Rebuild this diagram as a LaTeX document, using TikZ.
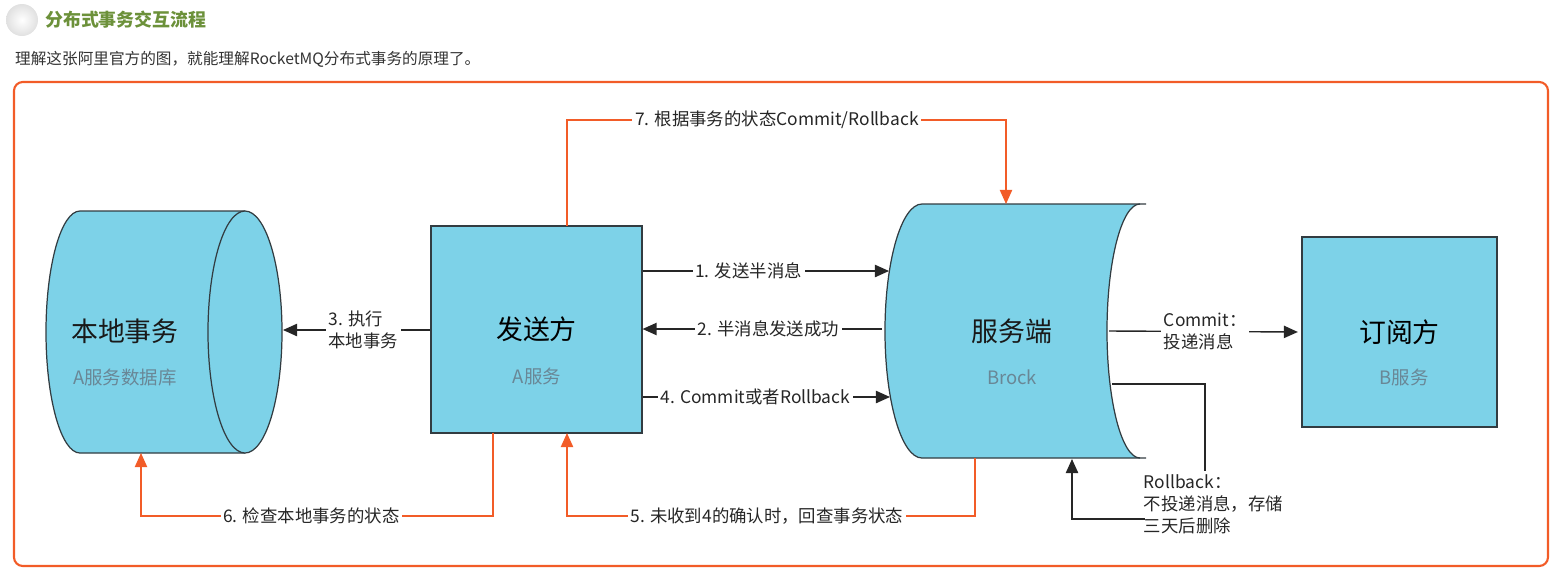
\documentclass[tikz,border=0pt]{standalone}
\usepackage{fontspec}
\setmainfont{Noto Sans CJK SC}
\usetikzlibrary{arrows.meta,positioning}
\definecolor{mqblue}{RGB}{125,210,232}
\definecolor{mqedge}{RGB}{50,60,65}
\definecolor{mqorange}{RGB}{242,92,40}
\definecolor{mqgray}{RGB}{105,135,150}
\definecolor{mqgreen}{RGB}{108,145,58}

\begin{document}
\begin{tikzpicture}[
    x=0.02cm, y=-0.02cm,
    box/.style={rectangle, draw=mqedge, fill=mqblue, line width=0.7pt,
      inner sep=0pt, font=\fontsize{15.3}{18}\selectfont},
    bigtxt/.style={font=\fontsize{15.3}{18}\selectfont, text=black!90},
    subtxt/.style={font=\fontsize{10.5}{12}\selectfont, text=mqgray},
    arr/.style={-{Triangle[length=8pt,width=7pt]}, draw=black!85, line width=0.8pt},
    oarr/.style={-{Triangle[length=8pt,width=7pt]}, draw=mqorange, line width=0.7pt},
    plain/.style={draw=black!85, line width=0.8pt},
    labl/.style={font=\fontsize{9.9}{12.5}\selectfont, fill=white,
      inner sep=1.5pt, text=black!85, align=left}
  ]
  \useasboundingbox (0,0) rectangle (1560,576);

  % ── Header ───────────────────────────────────────────────
  \shade[inner color=white, outer color=black!12] (22,20) circle[radius=16];
  \node[anchor=west, font=\fontsize{10.2}{12}\selectfont\bfseries, text=mqgreen]
    (title) at (39,20) {分布式事务交互流程};
  \node[anchor=west, font=\fontsize{8.9}{10}\selectfont, text=black!80]
    (intro) at (9,59) {理解这张阿里官方的图，就能理解RocketMQ分布式事务的原理了。};
  \draw[mqorange, line width=1.2pt, rounded corners=5pt] (14,82) rectangle (1548,566);

  % ── Local transaction (cylinder) ─────────────────────────
  \filldraw[fill=mqblue, draw=mqedge, line width=0.7pt]
    (245,211) -- (80,211) arc[start angle=270, end angle=90, x radius=34, y radius=121] -- (245,453);
  \filldraw[fill=mqblue, draw=mqedge, line width=0.7pt]
    (245,332) ellipse[x radius=37, y radius=121];
  \node[bigtxt] (local)    at (125,331) {本地事务};
  \node[subtxt] (localsub) at (125,378) {A服务数据库};

  % ── Sender / subscriber boxes ────────────────────────────
  \node[box, minimum width=4.22cm, minimum height=4.14cm] (sender) at (536.5,329.5) {发送方};
  \node[subtxt] (sendersub) at (537,376) {A服务};
  \node[box, minimum width=3.9cm, minimum height=3.8cm] (subscriber) at (1399.5,332) {订阅方};
  \node[subtxt] (subscribersub) at (1404,377) {B服务};

  % ── Broker (server) ──────────────────────────────────────
  \fill[mqblue] (922,204) -- (1140,204)
    arc[start angle=270, end angle=90, x radius=33, y radius=127] -- (922,458)
    arc[start angle=90, end angle=270, x radius=37, y radius=127] -- cycle;
  \draw[mqedge, line width=0.7pt] (1146,204) -- (922,204)
    arc[start angle=270, end angle=90, x radius=37, y radius=127] -- (1146,458);
  \draw[mqedge, line width=0.7pt] (1140,204)
    arc[start angle=270, end angle=90, x radius=33, y radius=127];
  \node[bigtxt] (server)    at (1012,331) {服务端};
  \node[subtxt] (serversub) at (1012,377) {Brock};

  % ── Connector ends ───────────────────────────────────────
  \coordinate (dbR)    at (283,330);
  \coordinate (dbB)    at (141,453);
  \coordinate (srvA)   at (889,271);
  \coordinate (srvC)   at (882,329);
  \coordinate (srvD)   at (890,397);
  \coordinate (srvT)   at (1006,204);
  \coordinate (srvB)   at (975,458);
  \coordinate (srvR)   at (1072,459);
  \coordinate (srvOut) at (1109,331);
  \coordinate (srvRb)  at (1112,384);
  \coordinate (chkA)   at (567,433);
  \coordinate (askA)   at (493,433);
  \coordinate (cmtA)   at (567,226);
  \coordinate (rbTop)  at (1205,471);
  \coordinate (rbOut)  at (1145,519);

  % ── Black flow ───────────────────────────────────────────
  \draw[arr] (sender.east |- srvA) -- node[labl, pos=.43]  {1. 发送半消息} (srvA);
  \draw[arr] (srvC) -- node[labl, pos=.475] {2. 半消息发送成功} (sender.east |- srvC);
  \draw[arr] (sender.west |- dbR) -- node[labl, pos=.456] {3. 执行\\本地事务} (dbR);
  \draw[arr] (sender.east |- srvD) -- node[labl, pos=.456] {4. Commit或者Rollback} (srvD);
  \draw[arr, shorten >=2pt] (srvOut) -- node[labl, pos=.5] {Commit：\\投递消息} (subscriber.west);

  % ── Rollback branch ──────────────────────────────────────
  \draw[plain] (srvRb) -| (rbTop);
  \node[labl, fill=none, anchor=north west] (rb) at (1141,472) {Rollback：\\不投递消息，存储\\三天后删除};
  \draw[arr] (rbOut) -| (srvR);

  % ── Orange check-back loops ──────────────────────────────
  \draw[oarr] (srvB) -- ++(0,58) -| node[labl, pos=.255] {5. 未收到4的确认时，回查事务状态} (chkA);
  \draw[oarr] (askA) -- ++(0,83) -| node[labl, pos=.258] {6. 检查本地事务的状态} (dbB);
  \draw[oarr] (cmtA) -- ++(0,-106) -| node[labl, pos=.239] {7. 根据事务的状态Commit/Rollback} (srvT);
\end{tikzpicture}
\end{document}
